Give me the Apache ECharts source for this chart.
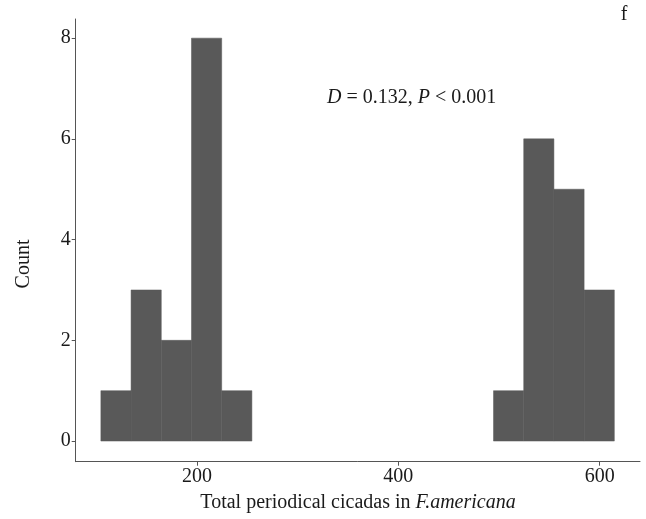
<!DOCTYPE html>
<html><head><meta charset="utf-8">
<script src="https://cdn.jsdelivr.net/npm/echarts@6/dist/echarts.min.js"></script>
<style>html,body{margin:0;padding:0;background:#fff}#c{width:646px;height:519px}</style>
</head><body><div id="c"></div>
<script>
// Histogram data
var binWidth = 30;
var binStarts = [104.5, 134.5, 164.5, 194.5, 224.5, 494.5, 524.5, 554.5, 584.5];
var counts    = [1, 3, 2, 8, 1, 1, 6, 5, 3];
var xTicks = [200, 400, 600];
var yTicks = [0, 2, 4, 6, 8];

var data = binStarts.map(function(s, i){ return [s, s + binWidth, counts[i]]; });
var font = '"Liberation Serif","Times New Roman",serif';
var chart = echarts.init(document.getElementById('c'), null, {renderer:'canvas'});
chart.setOption({
  animation: false,
  grid: {left: 75.7, right: 6, top: 19, bottom: 57.3, containLabel: false},
  xAxis: {
    type: 'value', min: 79.5, max: 640,
    axisLine: {show: true, onZero: false, lineStyle: {color: '#555', width: 1}},
    axisTick: {show: true, length: 4, customValues: xTicks, lineStyle: {color: '#555'}},
    axisLabel: {customValues: xTicks, color: '#1a1a1a', fontFamily: font, fontSize: 20, margin: 5},
    splitLine: {show: false}
  },
  yAxis: {
    type: 'value', min: -0.41, max: 8.38,
    axisLine: {show: true, onZero: false, lineStyle: {color: '#555', width: 1}},
    axisTick: {show: true, length: 4, customValues: yTicks, lineStyle: {color: '#555'}},
    axisLabel: {customValues: yTicks, color: '#1a1a1a', fontFamily: font, fontSize: 20, margin: 5},
    splitLine: {show: false}
  },
  series: [{
    type: 'custom',
    data: data,
    renderItem: function(params, api){
      var p0 = api.coord([api.value(0), 0]);
      var p1 = api.coord([api.value(1), api.value(2)]);
      return {type: 'rect', shape: {x: p0[0], y: p1[1], width: p1[0]-p0[0], height: p0[1]-p1[1]},
        style: {fill: '#595959', stroke: '#595959', lineWidth: 0.5}};
    }
  }],
  graphic: [
    {type: 'text', x: 327, y: 98, style: {
      text: '{i|D} = 0.132, {i|P} < 0.001', fontFamily: font, fontSize: 20, fill: '#1a1a1a', verticalAlign: 'middle',
      rich: {i: {fontStyle: 'italic', fontFamily: font, fontSize: 20, fill: '#1a1a1a'}}}},
    {type: 'text', x: 358, y: 503, style: {
      text: 'Total periodical cicadas in {i|F.americana}', fontFamily: font, fontSize: 20, fill: '#1a1a1a', align: 'center', verticalAlign: 'middle',
      rich: {i: {fontStyle: 'italic', fontFamily: font, fontSize: 20, fill: '#1a1a1a'}}}},
    {type: 'text', x: 24, y: 264, rotation: Math.PI/2, style: {
      text: 'Count', fontFamily: font, fontSize: 20, fill: '#1a1a1a', align: 'center', verticalAlign: 'middle'}},
    {type: 'text', x: 624, y: 15, style: {
      text: 'f', fontFamily: font, fontSize: 20, fill: '#1a1a1a', align: 'center', verticalAlign: 'middle'}}
  ]
});
</script></body></html>
